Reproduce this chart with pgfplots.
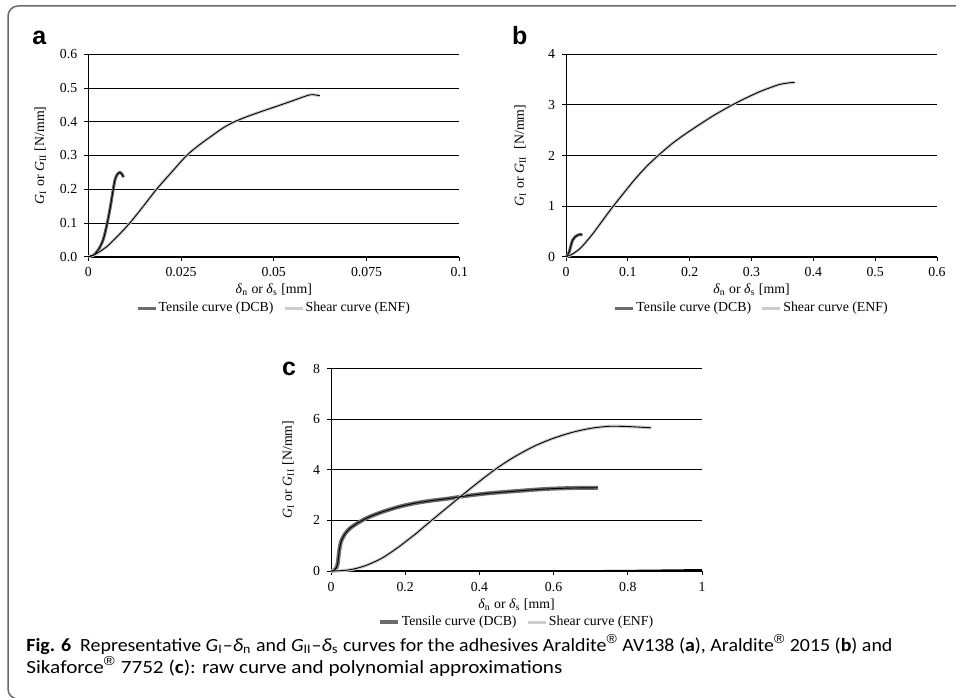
\documentclass[border=0pt]{standalone}
\usepackage{fontspec}
\setmainfont{Liberation Serif}
\newfontfamily\capfont{Carlito}
\newfontfamily\lblfont{Liberation Sans}
\newfontfamily\regfont{Liberation Sans}
\usepackage{graphicx}
\usepackage{pgfplots}
\pgfplotsset{compat=1.18}

\definecolor{tens}{HTML}{6C6C6C}
\definecolor{shear}{HTML}{CCCCCC}
\definecolor{frame}{HTML}{6A6A6A}

\pgfplotstableread{
x y
0 0
0.0013 0.004
0.0027 0.020
0.0040 0.050
0.0049 0.089
0.0058 0.139
0.0067 0.198
0.0072 0.228
0.0078 0.244
0.0085 0.250
0.0090 0.246
0.0095 0.236
}\tensA
\pgfplotstableread{
x y
0 0
0.002 0.008
0.005 0.030
0.008 0.062
0.0112 0.100
0.015 0.152
0.0184 0.200
0.022 0.245
0.0265 0.300
0.030 0.332
0.034 0.364
0.0365 0.383
0.0390 0.398
0.0420 0.412
0.0460 0.428
0.0508 0.446
0.055 0.462
0.0598 0.480
0.0624 0.477
}\shearA
\pgfplotstableread{
x y
0 0
0.003 0.04
0.0054 0.10
0.0081 0.23
0.0108 0.33
0.0145 0.39
0.0199 0.43
0.0226 0.44
0.0264 0.43
}\tensB
\pgfplotstableread{
x y
0 0
0.01 0.05
0.0226 0.16
0.035 0.33
0.045 0.48
0.06 0.73
0.0765 1.0
0.1087 1.49
0.1300 1.78
0.1500 2.01
0.1700 2.22
0.1900 2.40
0.211 2.573
0.240 2.80
0.2675 2.99
0.290 3.13
0.313 3.26
0.3300 3.34
0.3455 3.405
0.3600 3.435
0.3698 3.446
}\shearB
\pgfplotstableread{
x y
0 0
0.0063 0.013
0.0135 0.106
0.018 0.30
0.0224 0.83
0.027 1.16
0.036 1.43
0.051 1.69
0.078 1.95
0.105 2.15
0.141 2.35
0.186 2.55
0.230 2.69
0.275 2.79
0.320 2.87
0.365 2.97
0.410 3.05
0.455 3.11
0.50 3.16
0.545 3.21
0.589 3.25
0.65 3.28
0.719 3.29
}\tensC
\pgfplotstableread{
x y
0 0
0.025 0.01
0.051 0.05
0.075 0.13
0.096 0.23
0.12 0.38
0.141 0.54
0.163 0.75
0.186 0.99
0.208 1.24
0.230 1.49
0.250 1.74
0.271 2.0
0.305 2.41
0.338 2.81
0.370 3.19
0.405 3.60
0.441 4.0
0.470 4.29
0.50 4.56
0.55 4.95
0.60 5.25
0.65 5.48
0.70 5.64
0.75 5.72
0.80 5.71
0.863 5.66
}\shearC

\newcommand{\tickfont}{\fontsize{6.9}{8}\selectfont}
\newcommand{\reg}{\textsuperscript{\regfont ®}}
\pgfplotsset{
  fig/.style={
    scale only axis, width=185.5pt, height=101.2pt,
    axis lines*=left,
    x axis line style={line width=0.95pt},
    y axis line style={line width=0.45pt},
    ymajorgrids, major grid style={black,line width=0.45pt},
    tick align=outside, major tick length=2pt,
    tick style={black,line width=0.45pt},
    ticklabel style={font=\tickfont},
    /pgf/number format/assume math mode=true,
    scaled x ticks=false, scaled y ticks=false,
    label style={font=\tickfont},
    xlabel={\textit{δ}\textsubscript{n} or \textit{δ}\textsubscript{s} [mm]},
    legend style={draw=none,fill=none,font=\tickfont,legend columns=2,anchor=center,
      nodes={inner xsep=0.8pt},
      /tikz/every even column/.append style={column sep=4pt}},
    legend image code/.code={\draw[#1] (0pt,0pt) -- (9pt,0pt);},
    clip=false,
  },
  raw/.style={smooth,tension=0.45},
}

\begin{document}%
\newsavebox\capA%
\newsavebox\capB%
\sbox\capA{\capfont\fontsize{9.3}{11}\selectfont\textbf{Fig. 6}\hspace{0.45em}Representative \textit{G}\textsubscript{I}–\textit{δ}\textsubscript{n} and \textit{G}\textsubscript{II}–\textit{δ}\textsubscript{s} curves for the adhesives Araldite\reg{} AV138 (\textbf{a}), Araldite\reg{} 2015 (\textbf{b}) and}%
\sbox\capB{\capfont\fontsize{9.3}{11}\selectfont Sikaforce\reg{} 7752 (\textbf{c}): raw curve and polynomial approximations}%
\begin{tikzpicture}
\useasboundingbox (0,0) rectangle (478pt,348.5pt);
\draw[frame,line width=0.75pt,rounded corners=5pt] (490pt,345.5pt) -- (4pt,345.5pt) -- (4pt,-1pt) -- (490pt,-1pt);

% panel a
\begin{axis}[fig, at={(44.15pt,220.15pt)}, anchor=south west,
  xmin=0, xmax=0.1, ymin=0, ymax=0.6,
  xtick={0,0.025,0.05,0.075,0.1}, ytick={0,0.1,...,0.6},
  xticklabel style={/pgf/number format/.cd,fixed,precision=3},
  yticklabel style={/pgf/number format/.cd,fixed,zerofill,precision=1},
  ylabel={\textit{G}\textsubscript{I} or \textit{G}\textsubscript{II} [N/mm]},
  xlabel style={at={(axis description cs:0.5,-0.1645)},anchor=center},
  ylabel style={at={(axis description cs:-0.1295,0.5)},anchor=center},
  legend style={at={(axis description cs:0.5,-0.2535)}},
]
\addplot[tens,line width=1.5pt,raw] table {\tensA};
\addlegendentry{Tensile curve (DCB)}
\addplot[shear,line width=1.5pt,raw] table {\shearA};
\addlegendentry{Shear curve (ENF)}
\addplot[black,line width=0.45pt,raw,forget plot] table {\tensA};
\addplot[black,line width=0.45pt,raw,forget plot] table {\shearA};
\end{axis}

% panel b
\begin{axis}[fig, at={(283pt,220.15pt)}, anchor=south west,
  xmin=0, xmax=0.6, ymin=0, ymax=4,
  xtick={0,0.1,...,0.6}, ytick={0,1,...,4},
  xticklabel style={/pgf/number format/.cd,fixed,precision=1},
  ylabel={\textit{G}\textsubscript{I} or \textit{G}\textsubscript{II}\ \ [N/mm]},
  xlabel style={at={(axis description cs:0.5,-0.1645)},anchor=center},
  ylabel style={at={(axis description cs:-0.124,0.5)},anchor=center},
  legend style={at={(axis description cs:0.5,-0.2535)}},
]
\addplot[tens,line width=1.5pt,raw] table {\tensB};
\addlegendentry{Tensile curve (DCB)}
\addplot[shear,line width=1.5pt,raw] table {\shearB};
\addlegendentry{Shear curve (ENF)}
\addplot[black,line width=0.45pt,raw,forget plot] table {\tensB};
\addplot[black,line width=0.45pt,raw,forget plot] table {\shearB};
\end{axis}

% panel c
\begin{axis}[fig, at={(165.5pt,63pt)}, anchor=south west,
  xmin=0, xmax=1, ymin=0, ymax=8,
  xtick={0,0.2,...,1}, ytick={0,2,...,8},
  xticklabel style={/pgf/number format/.cd,fixed,precision=1},
  ylabel={\textit{G}\textsubscript{I} or \textit{G}\textsubscript{II} [N/mm]},
  xlabel style={at={(axis description cs:0.5,-0.168)},anchor=center},
  ylabel style={at={(axis description cs:-0.116,0.5)},anchor=center},
  legend style={at={(axis description cs:0.5,-0.2525)}},
]
\addplot[tens,line width=2pt,raw] table {\tensC};
\addlegendentry{Tensile curve (DCB)}
\addplot[shear,line width=1.6pt,raw] table {\shearC};
\addlegendentry{Shear curve (ENF)}
\addplot[black,line width=0.45pt,raw,forget plot] table {\tensC};
\addplot[black,line width=0.45pt,raw,forget plot] table {\shearC};
\addplot[black,line width=0.7pt,forget plot] coordinates {(0.5,0) (0.7,0.008) (0.85,0.025) (1,0.05)};
\end{axis}

% panel letters
\node[anchor=base west,inner sep=0,font=\lblfont\bfseries\fontsize{12.5}{14}\selectfont] at (16pt,326pt) {a};
\node[anchor=base west,inner sep=0,font=\lblfont\bfseries\fontsize{12.5}{14}\selectfont] at (255.8pt,326pt) {b};
\node[anchor=base west,inner sep=0,font=\lblfont\bfseries\fontsize{12.5}{14}\selectfont] at (140.8pt,161pt) {c};

% caption
\node[anchor=base west,inner sep=0] at (13pt,23pt) {\resizebox{433pt}{\height}{\usebox\capA}};
\node[anchor=base west,inner sep=0] at (13pt,12pt) {\resizebox{268pt}{\height}{\usebox\capB}};
\end{tikzpicture}
\end{document}
